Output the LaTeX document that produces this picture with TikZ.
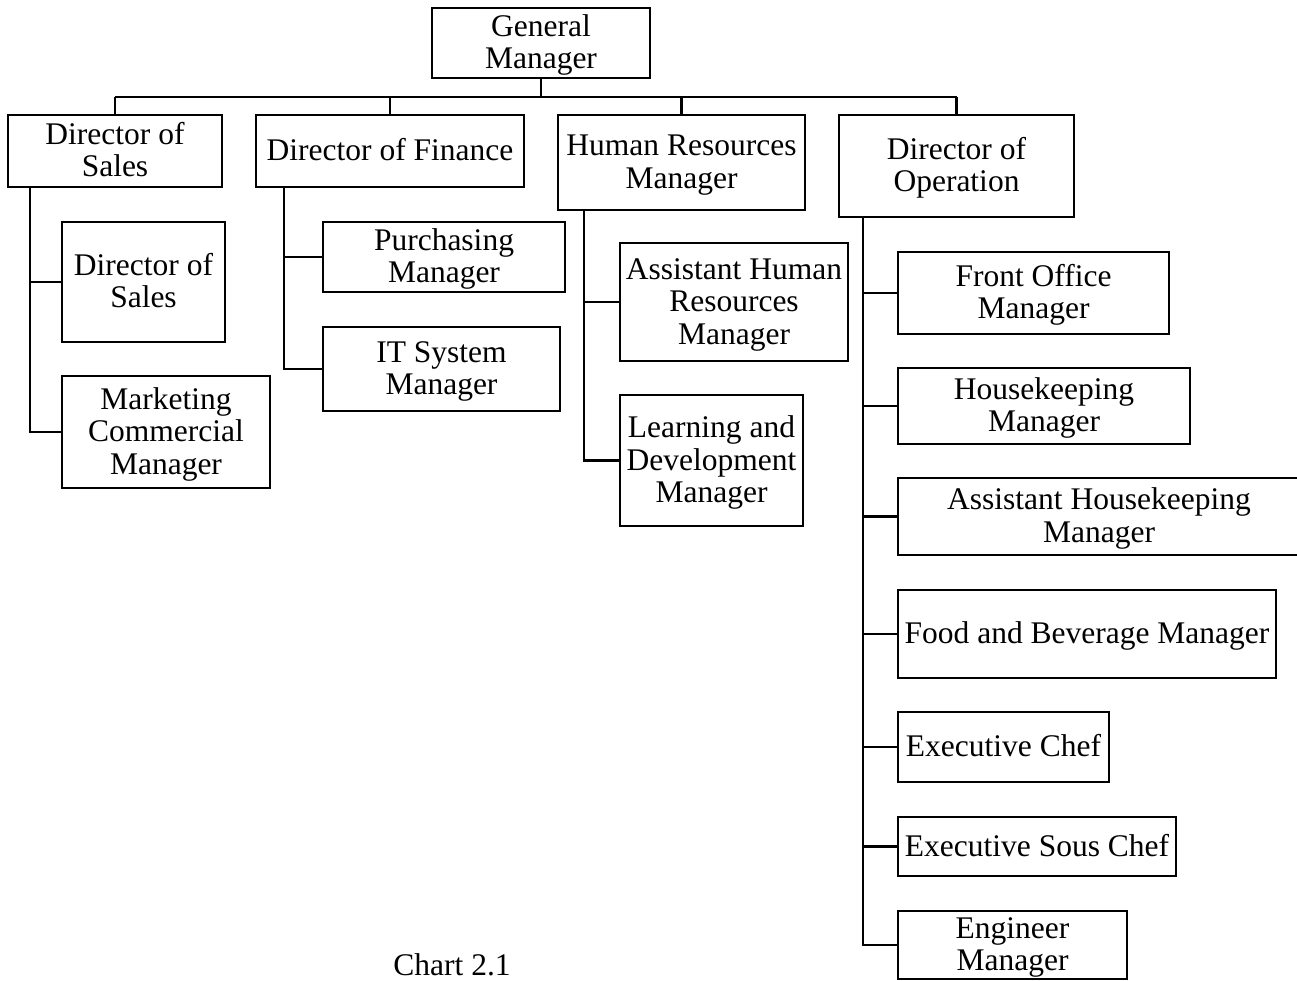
\documentclass[tikz,border=0pt]{standalone}
\usepackage{fontspec}
\setmainfont{Liberation Serif}
\newcommand{\bxt}[1]{\raisebox{-3pt}[\height][\depth]{\begin{tabular}{@{}c@{}}#1\end{tabular}}}
\begin{document}
\begin{tikzpicture}[x=1pt,y=-1pt,
  box/.style={draw, line width=2.6pt, inner sep=0pt, outer sep=0pt,
    font=\fontsize{31.5}{32.5}\selectfont, anchor=center},
  conn/.style={line width=2.6pt}]
\useasboundingbox (0,0) rectangle (1297,980);
% top
\node[box, minimum width=218, minimum height=70] (gm) at (541,43) {\bxt{General\\Manager}};
\node[box, minimum width=214, minimum height=72] (ds) at (115,151) {\bxt{Director of\\Sales}};
\node[box, minimum width=268, minimum height=72] (df) at (390,151) {\bxt{Director of Finance}};
\node[box, minimum width=247, minimum height=95] (hr) at (681.5,162.5) {\bxt{Human Resources\\Manager}};
\node[box, minimum width=235, minimum height=102] (doo) at (956.5,166) {\bxt{Director of\\Operation}};
% sales
\node[box, minimum width=163, minimum height=120] (ds2) at (143.5,282) {\bxt{Director of\\Sales}};
\node[box, minimum width=208, minimum height=112] (mcm) at (166,432) {\bxt{Marketing\\Commercial\\Manager}};
% finance
\node[box, minimum width=242, minimum height=70] (pm) at (444,257) {\bxt{Purchasing\\Manager}};
\node[box, minimum width=237, minimum height=84] (it) at (441.5,369) {\bxt{IT System\\Manager}};
% HR
\node[box, minimum width=228, minimum height=118] (ahr) at (734,302) {\bxt{Assistant Human\\Resources\\Manager}};
\node[box, minimum width=183, minimum height=131] (ld) at (711.5,460.5) {\bxt{Learning and\\Development\\Manager}};
% operation
\node[box, minimum width=271, minimum height=82] (fo) at (1033.5,293) {\bxt{Front Office\\Manager}};
\node[box, minimum width=292, minimum height=76] (hk) at (1044,406) {\bxt{Housekeeping\\Manager}};
\node[box, minimum width=402, minimum height=77] (ahk) at (1099,516.5) {\bxt{Assistant Housekeeping\\Manager}};
\node[box, minimum width=378, minimum height=88] (fb) at (1087,634) {\bxt{Food and Beverage Manager}};
\node[box, minimum width=211, minimum height=70] (ec) at (1003.5,747) {\bxt{Executive Chef}};
\node[box, minimum width=278, minimum height=59] (esc) at (1037,846.5) {\bxt{Executive Sous Chef}};
\node[box, minimum width=229, minimum height=68] (em) at (1012.5,945) {\bxt{Engineer\\Manager}};
% caption
\node[font=\fontsize{31.5}{32.5}\selectfont, inner sep=0pt, anchor=base] (cap) at (452,975) {Chart 2.1};
% bus
\coordinate (bus) at (0,97);
\draw[conn] (gm.south) -- (gm.south |- bus);
\draw[conn] (ds.north |- bus) -- (doo.north |- bus);
\draw[conn] (ds.north |- bus) -- (ds.north);
\draw[conn] (df.north |- bus) -- (df.north);
\draw[conn] (hr.north |- bus) -- (hr.north);
\draw[conn] (doo.north |- bus) -- (doo.north);
% spines
\coordinate (sx) at (30,0);
\coordinate (fx) at (284,0);
\coordinate (hx) at (584,0);
\coordinate (ox) at (863,0);
\draw[conn] (ds.south -| sx) |- (ds2.west);
\draw[conn] (ds.south -| sx) |- (mcm.west);
\draw[conn] (df.south -| fx) |- (pm.west);
\draw[conn] (df.south -| fx) |- (it.west);
\draw[conn] (hr.south -| hx) |- (ahr.west);
\draw[conn] (hr.south -| hx) |- (ld.west);
\foreach \n in {fo,hk,ahk,fb,ec,esc,em}
  \draw[conn] (doo.south -| ox) |- (\n.west);
\end{tikzpicture}
\end{document}
